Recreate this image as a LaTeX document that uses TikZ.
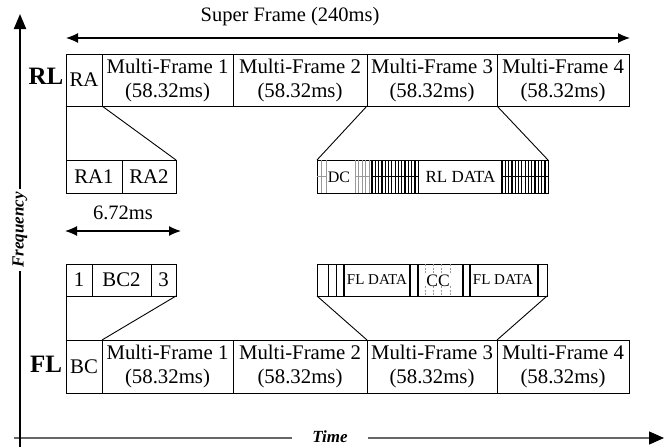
\documentclass[tikz,border=0pt]{standalone}
\usepackage{fontspec}
\setmainfont{Liberation Serif}
\usetikzlibrary{arrows.meta}
\begin{document}
\begin{tikzpicture}[x=1pt,y=-1pt,
  cell/.style={draw, line width=1pt, inner sep=0pt, outer sep=0pt, align=center,
    font=\fontsize{20.8}{24}\selectfont},
  thinline/.style={line width=0.9pt},
  hatchline/.style={line width=1.2pt},
  barline/.style={line width=1.9pt},
  grayline/.style={line width=1pt, black!40},
  ccgrid/.style={line width=0.9pt, black!40, dash pattern=on 2pt off 1.5pt},
  span/.style={line width=1.2pt, {Latex[length=12pt,width=10pt]}-{Latex[length=12pt,width=10pt]}},
  lbl/.style={inner sep=1pt, font=\fontsize{20.5}{24}\selectfont},
  slotlbl/.style={inner sep=0pt},
  axislbl/.style={font=\fontsize{17}{20}\selectfont\bfseries\itshape, fill=white, inner sep=3pt},
  linklbl/.style={font=\fontsize{25}{28}\selectfont\bfseries, inner sep=0pt}
]
\useasboundingbox (0,0) rectangle (669,447);

% time and frequency axes
\coordinate (tl) at (14,438);
\coordinate (tr) at (664,438);
\draw[line width=1.3pt, black!60, -{Triangle[length=15pt,width=13pt,color=black]}] (tl) -- (tr);
\node[axislbl, inner xsep=20pt] (time) at (330,437) {Time};
\coordinate (fb) at (20,447);
\coordinate (ft) at (20,14);
\draw[line width=2pt, -{Triangle[length=15pt,width=12pt]}] (fb) -- (ft);
\node[axislbl, rotate=90] (freq) at (20,230) {Frequency};

% super frame span
\coordinate (sfl) at (66,38);
\coordinate (sfr) at (630,38);
\draw[span] (sfl) -- (sfr);
\node[lbl] (sflbl) at (290,17) {Super Frame (240ms)};

% reverse link super frame
\node[linklbl] (rl) at (46,76) {RL};
\node[cell, minimum width=36pt,  minimum height=52pt] (rlra)  at (84,80)    {RA};
\node[cell, minimum width=131pt, minimum height=52pt] (rlmf1) at (167.5,80) {Multi-Frame 1\\(58.32ms)};
\node[cell, minimum width=134pt, minimum height=52pt] (rlmf2) at (300,80)   {Multi-Frame 2\\(58.32ms)};
\node[cell, minimum width=130pt, minimum height=52pt] (rlmf3) at (432,80)   {Multi-Frame 3\\(58.32ms)};
\node[cell, minimum width=132pt, minimum height=52pt] (rlmf4) at (563,80)   {Multi-Frame 4\\(58.32ms)};

% random access slots
\node[cell, minimum width=56pt, minimum height=33pt] (ra1) at (94,176.5)  {RA1};
\node[cell, minimum width=54pt, minimum height=33pt] (ra2) at (149,176.5) {RA2};
\draw[thinline] (rlra.south west) -- (ra1.north west);
\draw[thinline] (rlra.south east) -- (ra2.north east);

% reverse link multi-frame detail
\node[cell, minimum width=231pt, minimum height=33pt] (dcrow) at (432.5,176.5) {};
\draw[thinline] (rlmf3.south west) -- (dcrow.north west);
\draw[thinline] (rlmf3.south east) -- (dcrow.north east);
\foreach \x in {321.5,326} \draw[grayline] (\x,160) -- (\x,193);
\draw[grayline] (317,176.5) -- (326,176.5);
\foreach \x in {355,358.5,...,370} \draw[grayline] (\x,160) -- (\x,193);
\draw[grayline] (355,176.5) -- (370,176.5);
\foreach \x in {372,375.3,...,419} \draw[hatchline] (\x,160) -- (\x,193);
\draw[hatchline] (372,176.5) -- (418.2,176.5);
\foreach \x in {502,505.3,...,549} \draw[hatchline] (\x,160) -- (\x,193);
\draw[hatchline] (502,176.5) -- (548,176.5);
\node[slotlbl, font=\fontsize{16}{18}\selectfont] (dclbl) at (339,177) {DC};
\node[slotlbl, font=\fontsize{17}{18}\selectfont] (rldata) at (460.5,177) {RL DATA};

% 6.72 ms span
\coordinate (tsl) at (65,231);
\coordinate (tsr) at (181,231);
\draw[span] (tsl) -- (tsr);
\node[lbl] (tslbl) at (123,213) {6.72ms};

% broadcast slots
\node[cell, minimum width=26pt, minimum height=32pt] (one)   at (79,280)    {1};
\node[cell, minimum width=59pt, minimum height=32pt] (bc2)   at (121.5,280) {BC2};
\node[cell, minimum width=25pt, minimum height=32pt] (three) at (163.5,280) {3};

% forward link multi-frame detail
\node[cell, minimum width=230pt, minimum height=32pt] (fldata) at (432,280) {};
\draw[thinline] (328,264) -- (328,296);
\draw[thinline] (336.5,264) -- (336.5,296);
\foreach \x in {344,410,418,463,470,538} \draw[barline] (\x,264) -- (\x,296);
\foreach \x in {425,433,441.5,450} {
  \draw[ccgrid] (\x,264) -- (\x,274);
  \draw[ccgrid] (\x,286) -- (\x,296);
}
\node[slotlbl, font=\fontsize{15}{18}\selectfont] (fld1) at (377,280) {FL DATA};
\node[slotlbl, font=\fontsize{17.5}{18}\selectfont] (cclbl) at (438,281) {CC};
\node[slotlbl, font=\fontsize{15}{18}\selectfont] (fld2) at (503,280) {FL DATA};

% forward link super frame
\node[linklbl] (fl) at (46,364) {FL};
\node[cell, minimum width=36pt,  minimum height=53pt] (flbc)  at (84,366.5)    {BC};
\node[cell, minimum width=131pt, minimum height=53pt] (flmf1) at (167.5,366.5) {Multi-Frame 1\\(58.32ms)};
\node[cell, minimum width=134pt, minimum height=53pt] (flmf2) at (300,366.5)   {Multi-Frame 2\\(58.32ms)};
\node[cell, minimum width=130pt, minimum height=53pt] (flmf3) at (432,366.5)   {Multi-Frame 3\\(58.32ms)};
\node[cell, minimum width=132pt, minimum height=53pt] (flmf4) at (563,366.5)   {Multi-Frame 4\\(58.32ms)};

\draw[thinline] (flbc.north west) -- (one.south west);
\draw[thinline] (flbc.north east) -- (three.south east);
\draw[thinline] (flmf3.north west) -- (fldata.south west);
\draw[thinline] (flmf3.north east) -- (fldata.south east);
\end{tikzpicture}
\end{document}
